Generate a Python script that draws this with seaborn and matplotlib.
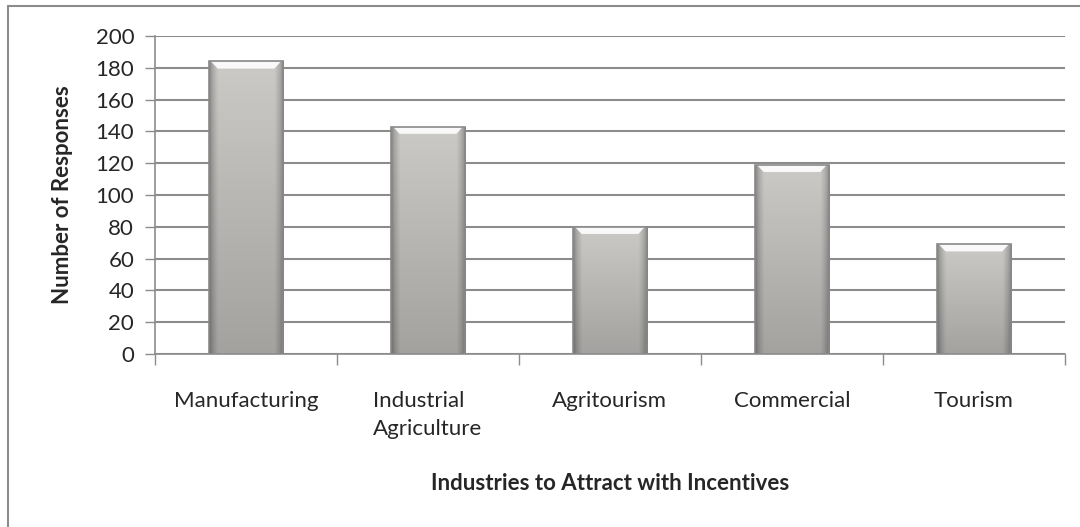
import matplotlib
matplotlib.use('Agg')
import matplotlib.pyplot as plt
import seaborn as sns
import numpy as np
import pandas as pd
from matplotlib.patches import Rectangle
from matplotlib.lines import Line2D

industries = ['Manufacturing', 'Industrial\nAgriculture', 'Agritourism', 'Commercial', 'Tourism']
responses = [184, 143, 80, 119, 69]
yticks = [0, 20, 40, 60, 80, 100, 120, 140, 160, 180, 200]


def bar_gradient(h=200, w=60):
    # beveled gray look: darker edges, light top, darker bottom
    x = np.linspace(0, 1, w)
    y = np.linspace(0, 1, h)[:, None]
    base = 202 - 40 * y  # top->bottom
    edge = np.minimum(x, 1 - x)
    shade = np.clip(edge / 0.12, 0, 1) ** 0.6
    img = base * (0.64 + 0.36 * shade)
    img = np.repeat(img[:, :, None], 3, axis=2) / 255.0
    img[..., 0] *= 1.01
    img[..., 2] *= 0.985
    return np.clip(img, 0, 1)


def main():
    sns.set_style('white')
    plt.rcParams['font.family'] = ['Lato', 'DejaVu Sans']

    df = pd.DataFrame({'Industry': industries, 'Responses': responses})

    fig = plt.figure(figsize=(10.8, 5.27), dpi=100)
    ax = fig.add_axes([0.1435, 0.3283, 0.8425, 0.6034])

    sns.barplot(data=df, x='Industry', y='Responses', color='#c4c0bc',
                width=0.41, ax=ax, zorder=3, edgecolor='none')

    grad = bar_gradient()
    for p in ax.patches:
        x0, y0 = p.get_x(), p.get_y()
        w, h = p.get_width(), p.get_height()
        im = ax.imshow(grad, extent=[x0, x0 + w, y0, y0 + h], aspect='auto',
                       zorder=4, interpolation='bilinear')
        im.set_clip_path(p)
        # top bevel highlight
        top = h - 4.5
        ax.fill([x0 + w * 0.03, x0 + w * 0.97, x0 + w * 0.88, x0 + w * 0.12],
                [y0 + h, y0 + h, y0 + top, y0 + top],
                color='white', alpha=0.9, zorder=5, lw=0)
        ax.add_patch(Rectangle((x0, y0), w, h, fill=False, ec='#8a8a8a',
                               lw=1.2, zorder=6))

    ax.set_xlim(-0.5, len(industries) - 0.5)
    ax.set_ylim(0, 200)
    ax.set_yticks(yticks)
    ax.yaxis.grid(True, color='#8c8c8c', lw=1.5, zorder=0)
    ax.set_axisbelow(True)

    for s in ['top', 'right']:
        ax.spines[s].set_visible(False)
    ax.spines['left'].set_color('#8c8c8c')
    ax.spines['bottom'].set_color('#8c8c8c')
    ax.spines['left'].set_linewidth(1.2)
    ax.spines['bottom'].set_linewidth(1.2)

    ax.set_xticks(range(len(industries)))
    ax.set_xticklabels(industries, fontsize=16, va='top', linespacing=1.5)
    ax.set_xticks(np.arange(-0.5, len(industries)), minor=True)
    ax.tick_params(axis='x', which='major', length=0, pad=27)
    ax.tick_params(axis='x', which='minor', length=8, width=1, color='#8c8c8c',
                   direction='out', bottom=True)
    ax.tick_params(axis='y', length=7, width=1, color='#8c8c8c',
                   direction='out', left=True, labelsize=16, pad=8)
    for lbl in ax.get_xticklabels():
        lbl.set_multialignment('left')

    ax.set_xlabel('Industries to Attract with Incentives', fontsize=16,
                  fontweight='bold', labelpad=24)
    ax.set_ylabel('Number of Responses', fontsize=16, fontweight='bold',
                  labelpad=16)

    # outer chart frame (only top and left edges visible in the crop)
    fig.add_artist(Line2D([8 / 1080, 1.0], [1 - 6 / 527, 1 - 6 / 527],
                          transform=fig.transFigure, color='#8c8c8c', lw=1.5))
    fig.add_artist(Line2D([8 / 1080, 8 / 1080], [0, 1 - 6 / 527],
                          transform=fig.transFigure, color='#8c8c8c', lw=1.5))

    plt.savefig('out.png', dpi=100)
    plt.close()


if __name__ == '__main__':
    main()
